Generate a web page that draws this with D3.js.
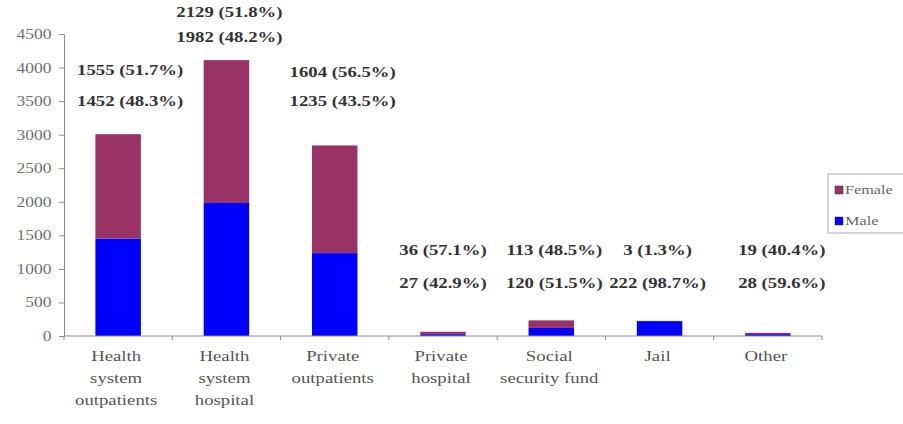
<html lang="en">
<head>
<meta charset="utf-8">
<title>Patients by sector and sex</title>
<script src="https://d3js.org/d3.v7.min.js"></script>
</head>
<body style="margin:0; background:#fff">
<svg id="chart"></svg>
<script>
// data
var categories = ["Health system outpatients", "Health system hospital", "Private outpatients",
                  "Private hospital", "Social security fund", "Jail", "Other"];
var catLines = [["Health", "system", "outpatients"], ["Health", "system", "hospital"],
                ["Private", "outpatients"], ["Private", "hospital"],
                ["Social", "security fund"], ["Jail"], ["Other"]];
var male = [1452, 1982, 1235, 27, 120, 222, 28];
var female = [1555, 2129, 1604, 36, 113, 3, 19];
var malePct = [48.3, 48.2, 43.5, 42.9, 51.5, 98.7, 59.6];
var femalePct = [51.7, 51.8, 56.5, 57.1, 48.5, 1.3, 40.4];
var yTicks = [0, 500, 1000, 1500, 2000, 2500, 3000, 3500, 4000, 4500];

// label placement (pixels), the labels were placed by hand in the original
var labelLayout = {
  femaleY: [70, 12, 72, 250, 250, 250, 250],
  maleY: [101, 37, 101, 283, 283, 283, 283],
  dx: [12, 3, 8, 0, 3, -2, 14]
};

var colors = { female: "#993366", male: "#0000ff" };
var serif = "'Liberation Serif'";
var axisColor = "#8c8c8c";

// the original picture is stretched sideways, text too
var sx = 1.25;

var config = { w: 903, h: 424, left: 64, right: 822, top: 34, bottom: 336 };

var svg = d3.select("#chart").attr("width", config.w).attr("height", config.h);

var x = d3.scaleBand().domain(categories).range([config.left, config.right]).paddingInner(0.58).paddingOuter(0.29);
var xb = d3.scaleBand().domain(categories).range([config.left, config.right]);
var y = d3.scaleLinear().domain([0, 4500]).range([config.bottom, config.top]);

// y axis
var yg = svg.append("g")
  .attr("transform", "translate(" + config.left + ",0)")
  .call(d3.axisLeft(y).tickValues(yTicks).tickFormat(d3.format("d")).tickSize(5).tickSizeOuter(0).tickPadding(5));
yg.select(".domain").attr("stroke", axisColor);
yg.selectAll(".tick line").attr("stroke", axisColor);
yg.selectAll(".tick text")
  .attr("fill", "#707070")
  .style("font-family", serif)
  .style("font-size", "14px")
  .attr("transform", "scale(" + sx + ",1)");

var rows = categories.map(function(c, i) {
  return { cat: c, male: male[i], female: female[i] };
});
var stack = d3.stack().keys(["male", "female"])(rows);

svg.selectAll("g.series")
  .data(stack)
  .enter()
  .append("g")
  .attr("class", "series")
  .attr("fill", function(d) { return colors[d.key]; })
  .selectAll("rect")
  .data(function(d) { return d; })
  .enter()
  .append("rect")
  .attr("x", function(d) { return x(d.data.cat); })
  .attr("width", x.bandwidth())
  .attr("y", function(d) { return y(d[1]); })
  .attr("height", function(d) { return y(d[0]) - y(d[1]); });

// x axis with ticks between categories
var xg = svg.append("g").attr("stroke", axisColor);
xg.append("line")
  .attr("x1", config.left).attr("x2", config.right)
  .attr("y1", config.bottom).attr("y2", config.bottom);
xg.selectAll("line.tick")
  .data(categories.concat(["end"]))
  .enter()
  .append("line")
  .attr("class", "tick")
  .attr("x1", function(d, i) { return i < categories.length ? xb(d) : config.right; })
  .attr("x2", function(d, i) { return i < categories.length ? xb(d) : config.right; })
  .attr("y1", config.bottom).attr("y2", config.bottom + 4);

// category labels
svg.selectAll("text.cat")
  .data(catLines)
  .enter()
  .append("text")
  .attr("class", "cat")
  .attr("text-anchor", "middle")
  .attr("fill", "#555")
  .style("font-family", serif)
  .style("font-size", "15px")
  .attr("transform", function(d, i) {
    return "translate(" + (xb(categories[i]) + xb.bandwidth() / 2 - 2) + "," + (config.bottom + 25) + ") scale(" + sx + ",1)";
  })
  .selectAll("tspan")
  .data(function(d) { return d; })
  .enter()
  .append("tspan")
  .attr("x", 0)
  .attr("dy", function(d, j) { return j === 0 ? 0 : 22; })
  .text(function(d) { return d; });

// value labels
function valueLabels(vals, pcts, ys) {
  svg.append("g").selectAll("text")
    .data(vals)
    .enter()
    .append("text")
    .attr("text-anchor", "middle")
    .attr("fill", "#333")
    .style("font-family", serif)
    .style("font-size", "15px")
    .style("font-weight", "bold")
    .attr("transform", function(d, i) {
      var cx = x(categories[i]) + x.bandwidth() / 2 + labelLayout.dx[i];
      return "translate(" + cx + "," + (ys[i] + 5) + ") scale(" + sx + ",1)";
    })
    .text(function(d, i) { return d + " (" + pcts[i].toFixed(1) + "%)"; });
}
valueLabels(female, femalePct, labelLayout.femaleY);
valueLabels(male, malePct, labelLayout.maleY);

// legend
var legend = svg.append("g").attr("transform", "translate(828,174)");
legend.append("rect")
  .attr("width", 80).attr("height", 59)
  .attr("fill", "#fff").attr("stroke", "#aaa");
var items = [["Female", colors.female], ["Male", colors.male]];
items.forEach(function(it, i) {
  var gy = 16 + i * 31;
  legend.append("rect")
    .attr("x", 7).attr("y", gy - 4).attr("width", 8).attr("height", 8)
    .attr("fill", it[1]).attr("stroke", "#333").attr("stroke-width", 0.5);
  legend.append("text")
    .attr("fill", "#666")
    .style("font-family", serif)
    .style("font-size", "13px")
    .attr("transform", "translate(17," + (gy + 4) + ") scale(" + sx + ",1)")
    .text(it[0]);
});
</script>
</body>
</html>
